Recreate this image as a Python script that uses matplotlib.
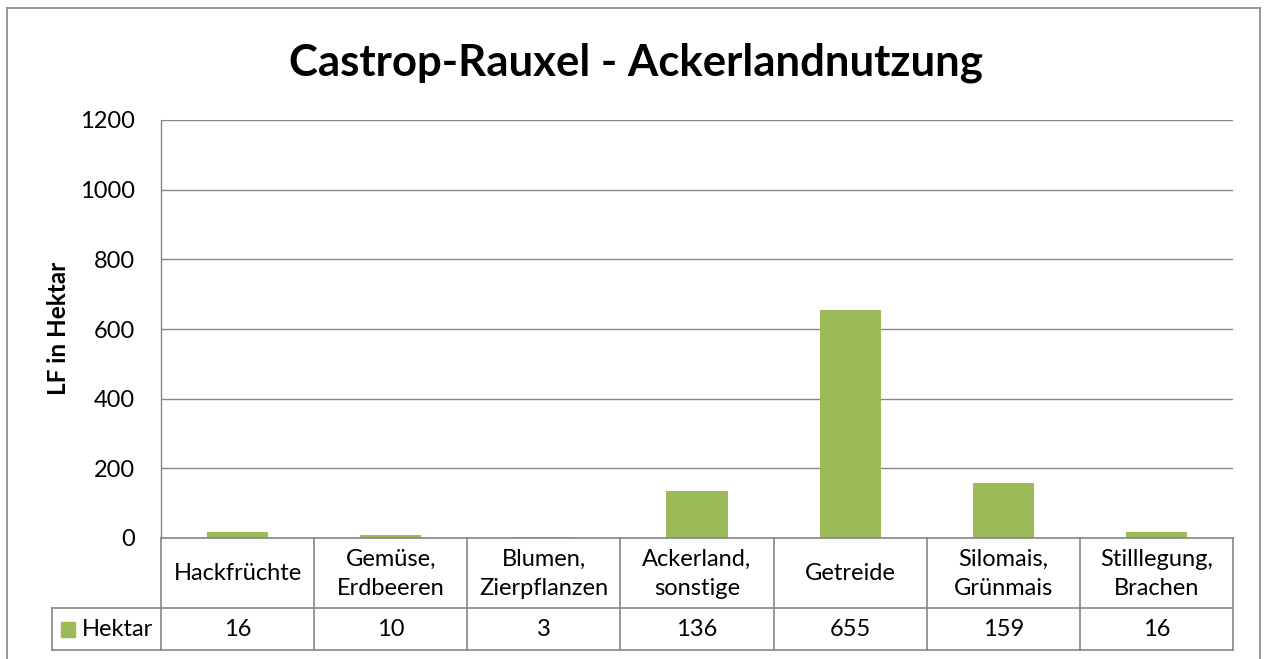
import matplotlib
matplotlib.use("Agg")
import matplotlib.pyplot as plt
from matplotlib.lines import Line2D
from matplotlib.patches import Rectangle

categories = ["Hackfrüchte", "Gemüse,\nErdbeeren", "Blumen,\nZierpflanzen", "Ackerland,\nsonstige",
              "Getreide", "Silomais,\nGrünmais", "Stilllegung,\nBrachen"]
values = [16, 10, 3, 136, 655, 159, 16]
series_name = "Hektar"
yticks = [0, 200, 400, 600, 800, 1000, 1200]
title = "Castrop-Rauxel - Ackerlandnutzung"
ylabel = "LF in Hektar"

W, H = 1264, 659
fig = plt.figure(figsize=(W / 100, H / 100), dpi=100)
plt.rcParams['font.family'] = ['Lato', 'DejaVu Sans']

GRID = "#868686"
GREEN = "#9BBB59"
FS = 17

def fx(px):
    return px / W

def fy(py):
    return 1 - py / H

# plot area in pixels
L, R, T, B = 161, 1233, 120, 538
ax = fig.add_axes([fx(L), fy(B), fx(R) - fx(L), fy(T) - fy(B)])
n = len(categories)
ax.set_xlim(-0.5, n - 0.5)
ax.set_ylim(0, 1200)
ax.bar(range(n), values, width=0.4, color=GREEN, zorder=3)
ax.set_yticks(yticks)
ax.set_yticklabels([str(t) for t in yticks], fontsize=FS)
ax.tick_params(axis='y', length=0, pad=18.5)
ax.set_xticks([])
for t in yticks:
    ax.axhline(t, color=GRID, lw=1.0, zorder=1)
for s in ['top', 'right', 'bottom']:
    ax.spines[s].set_visible(False)
ax.spines['left'].set_color(GRID)
ax.spines['left'].set_linewidth(1.0)

# title and ylabel
fig.text(fx(636), fy(63), title, fontsize=31.5, fontweight='bold', ha='center', va='center')
fig.text(fx(59), fy(328), ylabel, fontsize=17.5, fontweight='bold', rotation=90, ha='center', va='center')

# data table
row1_top, row1_bot, row2_bot = 538, 608, 650
leg_left = 52
cw = (R - L) / n

def hline(x0, x1, y):
    fig.add_artist(Line2D([fx(x0), fx(x1)], [fy(y), fy(y)], color=GRID, lw=1.2))

def vline(x, y0, y1):
    fig.add_artist(Line2D([fx(x), fx(x)], [fy(y0), fy(y1)], color=GRID, lw=1.2))

hline(L, R, row1_top)
hline(leg_left, R, row1_bot)
hline(leg_left, R, row2_bot)
vline(leg_left, row1_bot, row2_bot)
for i in range(n + 1):
    vline(L + i * cw, row1_top, row2_bot)

for i, (c, v) in enumerate(zip(categories, values)):
    cx = L + (i + 0.5) * cw
    fig.text(fx(cx), fy((row1_top + row1_bot) / 2 + 1), c, fontsize=FS, ha='center', va='center',
             linespacing=1.5)
    fig.text(fx(cx), fy((row1_bot + row2_bot) / 2 + 1), str(v), fontsize=FS, ha='center', va='center')

# legend key
fig.add_artist(Rectangle((fx(61), fy(637)), fx(75) - fx(61), fy(622) - fy(637), color=GREEN))
fig.text(fx(82), fy(629), series_name, fontsize=FS, ha='left', va='center')

# outer chart border
fig.add_artist(Line2D([fx(7), fx(7)], [fy(8), 0], color=GRID, lw=1.2))
fig.add_artist(Line2D([fx(7), fx(1260)], [fy(8), fy(8)], color=GRID, lw=1.2))
fig.add_artist(Line2D([fx(1260), fx(1260)], [fy(8), 0], color=GRID, lw=1.2))

fig.savefig("out.png", dpi=100)
